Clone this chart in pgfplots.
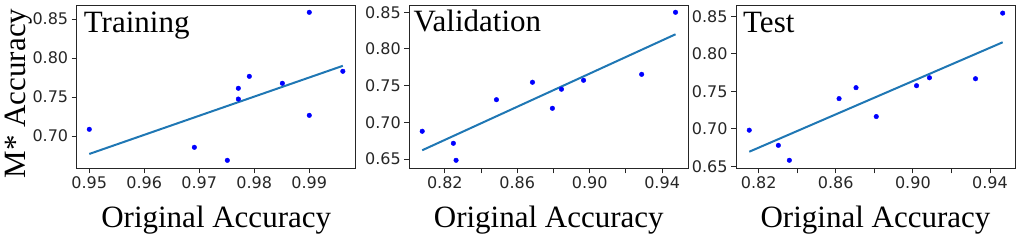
\documentclass[border=0pt]{standalone}
\usepackage{fontspec}
\setmainfont{Liberation Serif}
\newfontfamily\dejavu{DejaVu Sans}
\usepackage{pgfplots}
\pgfplotsset{compat=1.18}
\definecolor{fitblue}{HTML}{1F77B4}
\definecolor{framegray}{HTML}{262626}
\tikzset{ttl/.style={anchor=base west, inner sep=0pt, font=\fontsize{31}{31}\selectfont}}
\pgfplotsset{
  panel/.style={
    scale only axis, width=279pt, height=163pt,
    axis line style={framegray, line width=1pt},
    tick align=outside, major tick length=5pt,
    every tick/.style={framegray, line width=0.9pt},
    xtick pos=left, ytick pos=left,
    ticklabel style={font=\dejavu\fontsize{16}{16}\selectfont, text=framegray},
    /pgf/number format/assume math mode=true,
    xlabel style={font=\fontsize{31}{31}\selectfont, at={(axis description cs:0.5,0)}, anchor=base, yshift=-59pt},
    ylabel style={font=\fontsize{31}{31}\selectfont, at={(axis description cs:-0.185,0.459)}, anchor=base},
    clip=false,
  },
  pts/.style={only marks, mark=*, mark size=2.3pt, blue, mark options={draw=blue, fill=blue}},
  fit/.style={fitblue, line width=2pt, no marks},
}
\begin{document}
\begin{tikzpicture}
\useasboundingbox (0,0) rectangle (1016pt,241pt);
% Training
\begin{axis}[panel, at={(76.7pt,72.7pt)}, anchor=south west,
  xmin=0.94771, xmax=0.99844, ymin=0.6586, ymax=0.8676,
  xtick={0.95,0.96,0.97,0.98,0.99}, xticklabels={0.95,0.96,0.97,0.98,0.99},
  ytick={0.70,0.75,0.80,0.85}, yticklabels={0.70,0.75,0.80,0.85},
  xlabel={Original Accuracy}, ylabel={M* Accuracy}]
\addplot[fit] coordinates {(0.95,0.677) (0.9961,0.790)};
\addplot[pts] coordinates {
(0.95,0.7086) (0.9691,0.6855) (0.9751,0.6688) (0.9771,0.7612) (0.9771,0.7474)
(0.9791,0.7765) (0.9851,0.7676) (0.99,0.8586) (0.99,0.7265) (0.9961,0.783)};
\node[ttl] at (axis description cs:0.025,0.836) {Training};
\end{axis}
% Validation
\begin{axis}[panel, at={(409.3pt,72.7pt)}, anchor=south west,
  xmin=0.80037, xmax=0.95446, ymin=0.6373, ymax=0.8595,
  xtick={0.82,0.84,0.86,0.88,0.90,0.92,0.94}, xticklabels={0.82,,0.86,,0.90,,0.94},
  ytick={0.65,0.70,0.75,0.80,0.85}, yticklabels={0.65,0.70,0.75,0.80,0.85},
  xlabel={Original Accuracy}]
\addplot[fit] coordinates {(0.8075,0.6619) (0.9474,0.8200)};
\addplot[pts] coordinates {
(0.8075,0.6878) (0.8247,0.6714) (0.8262,0.6482) (0.8485,0.7308) (0.8684,0.7546)
(0.8794,0.7191) (0.8844,0.7451) (0.8966,0.7573) (0.9287,0.7654) (0.9474,0.8500)};
\node[ttl] at (axis description cs:0.015,0.842) {Validation};
\end{axis}
% Test
\begin{axis}[panel, at={(736pt,72.7pt)}, anchor=south west,
  xmin=0.80822, xmax=0.9530, ymin=0.6473, ymax=0.8646,
  xtick={0.82,0.84,0.86,0.88,0.90,0.92,0.94}, xticklabels={0.82,,0.86,,0.90,,0.94},
  ytick={0.65,0.70,0.75,0.80,0.85}, yticklabels={0.65,0.70,0.75,0.80,0.85},
  xlabel={Original Accuracy}]
\addplot[fit] coordinates {(0.8151,0.6694) (0.9466,0.8153)};
\addplot[pts] coordinates {
(0.8151,0.6981) (0.8302,0.6779) (0.8359,0.6580) (0.8617,0.7402) (0.8705,0.7548)
(0.8810,0.7163) (0.9019,0.7574) (0.9086,0.7680) (0.9325,0.7667) (0.9466,0.8542)};
\node[ttl] at (axis description cs:0.025,0.836) {Test};
\end{axis}
\end{tikzpicture}
\end{document}
